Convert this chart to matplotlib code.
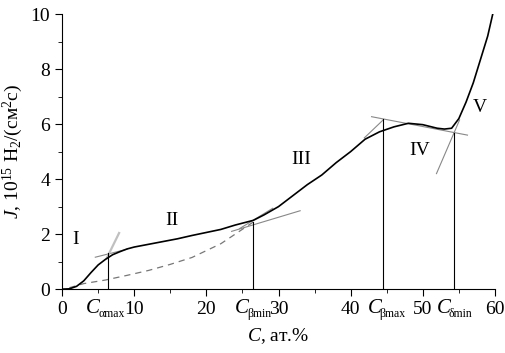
import matplotlib
matplotlib.use("Agg")
import matplotlib.pyplot as plt
from matplotlib.ticker import MultipleLocator
import matplotlib.transforms as mtransforms

plt.rcParams['font.family'] = ['Liberation Serif', 'DejaVu Serif']
plt.rcParams['mathtext.fontset'] = 'custom'
plt.rcParams['mathtext.rm'] = 'Liberation Serif'
plt.rcParams['mathtext.it'] = 'Liberation Serif:italic'

# measured curve J(C)
conc = [0, 1, 2, 3, 4, 5, 6, 7, 8, 9, 10, 12, 14, 16, 18, 20, 22, 24, 26.5, 28, 30,
        32, 34, 36, 38, 40, 42, 44, 46, 48, 50, 52, 53, 54, 55, 56, 57, 58, 59, 59.7]
flux = [0, 0.01, 0.1, 0.3, 0.6, 0.88, 1.08, 1.25, 1.36, 1.46, 1.53, 1.63, 1.73, 1.83,
        1.95, 2.06, 2.17, 2.33, 2.5, 2.7, 3.0, 3.4, 3.8, 4.15, 4.6, 5.0, 5.45, 5.72,
        5.9, 6.03, 5.98, 5.85, 5.82, 5.85, 6.2, 6.8, 7.5, 8.35, 9.2, 10.0]

# dashed extrapolation
dash_c = [1, 3, 6, 9, 12, 15, 18, 20, 22, 24, 26.5]
dash_j = [0.05, 0.2, 0.33, 0.5, 0.68, 0.9, 1.15, 1.4, 1.65, 2.0, 2.44]

# tangent segments ((c0, j0), (c1, j1))
tangents = [
    ((4.6, 1.16), (9.0, 1.45)),
    ((23.5, 2.1), (33.0, 2.85)),
    ((24.6, 2.2), (29.2, 2.94)),
    ((41.9, 5.5), (44.5, 6.15)),
    ((42.9, 6.27), (56.2, 5.6)),
    ((51.9, 4.2), (55.1, 6.15)),
]
steep_alpha = ((6.2, 1.13), (7.9, 2.04))

# vertical markers (C, top J)
markers_c = [6.3, 26.5, 44.5, 54.3]
markers_top = [1.3, 2.44, 6.2, 5.67]
marker_subs = ["αmax", "βmin", "βmax", "δmin"]
label_x = [4.3, 24.9, 43.3, 52.9]

region_names = ["I", "II", "III", "IV", "V"]
region_c = [1.8, 15.2, 33.2, 49.6, 57.9]
region_j = [1.8, 2.5, 4.7, 5.05, 6.6]

fig = plt.figure(figsize=(5.05, 3.53), dpi=100)
ax = fig.add_axes([0.123, 0.181, 0.857, 0.779])

ax.plot(dash_c, dash_j, color="#777777", lw=0.9, ls=(0, (5, 4)))
for (c0, j0), (c1, j1) in tangents:
    ax.plot([c0, c1], [j0, j1], color="#888888", lw=0.8)
ax.plot([steep_alpha[0][0], steep_alpha[1][0]], [steep_alpha[0][1], steep_alpha[1][1]],
        color="#c0c0c0", lw=1.6)
ax.plot(conc, flux, color="black", lw=1.2)
for c, top in zip(markers_c, markers_top):
    ax.plot([c, c], [0, top], color="black", lw=0.8)

for name, c, j in zip(region_names, region_c, region_j):
    ax.text(c, j, name, fontsize=14, ha="center", va="center")

trans = mtransforms.blended_transform_factory(ax.transData, ax.transAxes)
for sub, x in zip(marker_subs, label_x):
    ax.text(x, -0.035, "C", transform=trans, fontsize=15, style="italic",
            ha="center", va="top")
    ax.text(x + 0.7, -0.07, sub, transform=trans, fontsize=8.5,
            ha="left", va="top")

ax.set_xlim(0, 60)
ax.set_ylim(0, 10)
ax.xaxis.set_major_locator(MultipleLocator(10))
ax.xaxis.set_minor_locator(MultipleLocator(5))
ax.yaxis.set_major_locator(MultipleLocator(2))
ax.yaxis.set_minor_locator(MultipleLocator(1))
ax.tick_params(which="both", direction="out", labelsize=14)
ax.tick_params(which="major", length=5)
ax.tick_params(which="minor", length=3)
for s in ["top", "right"]:
    ax.spines[s].set_visible(False)

ax.set_xlabel(r"$C$, ат.%", fontsize=14, labelpad=6)
ax.set_ylabel(r"$J$, 10$^{15}$ H$_2$/(см$^2$c)", fontsize=14)

fig.savefig("out.png", dpi=100)
